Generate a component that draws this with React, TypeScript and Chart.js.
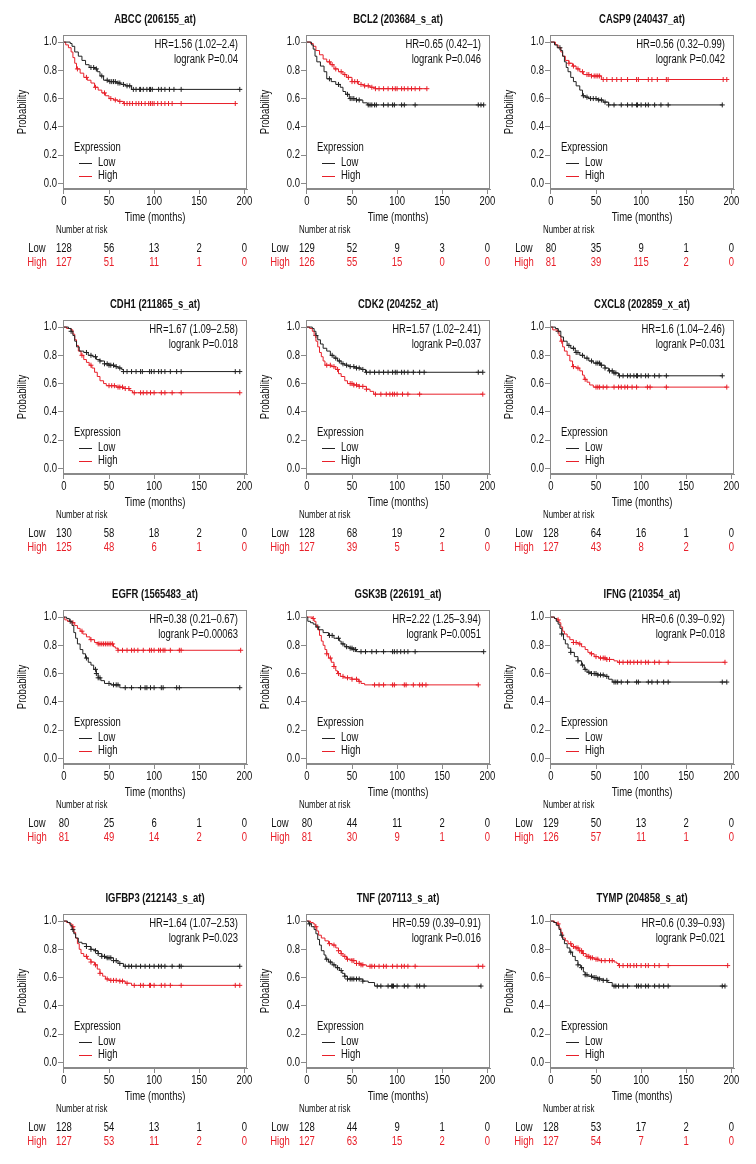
import React, { useEffect, useRef } from "react";
import { Chart, registerables } from "chart.js";
Chart.register(...registerables);

type Pt = [number, number];

const FONT = "'Liberation Sans', Arial, sans-serif";
const SX = 0.79;
const LOW_COLOR = "#222222";
const HIGH_COLOR = "#e8202a";
const FRAME = "#8a8a8a";
const TEXT = "#111111";

// ---------- data ----------
const riskTimes = [0, 50, 100, 150, 200];

// ABCC
const abccLow: Pt[] = [[0,1],[7,0.99],[9,0.97],[12,0.93],[16,0.9],[20,0.87],[24,0.84],[28,0.82],[34,0.81],[37,0.79],[40,0.76],[44,0.73],[50,0.72],[58,0.71],[63,0.7],[68,0.69],[75,0.665]];
const abccLowCens = [30,33,36,42,48,51,53,55,57,60,62,66,70,73,77,80,84,85,88,92,95,96,98,105,108,112,117,122,130,195];
const abccHigh: Pt[] = [[0,1],[2,0.98],[5,0.96],[8,0.93],[10,0.89],[12,0.85],[14,0.81],[18,0.78],[22,0.75],[26,0.73],[30,0.71],[34,0.68],[38,0.66],[42,0.64],[46,0.62],[50,0.6],[55,0.59],[60,0.58],[66,0.565]];
const abccHighCens = [15,25,35,45,52,57,62,67,70,73,76,80,83,86,90,94,96,98,100,104,108,112,116,120,130,190];
const abccRiskLow = [128,56,13,2,0];
const abccRiskHigh = [127,51,11,1,0];

// BCL2
const bcl2Low: Pt[] = [[0,1],[5,0.98],[7,0.95],[9,0.9],[11,0.86],[15,0.83],[19,0.79],[22,0.74],[27,0.72],[32,0.7],[37,0.68],[40,0.65],[43,0.63],[47,0.6],[55,0.59],[62,0.57],[67,0.555]];
const bcl2LowCens = [25,35,45,48,50,52,55,58,68,70,72,75,77,85,90,95,97,105,108,120,190,193,196];
const bcl2High: Pt[] = [[0,1],[4,0.99],[7,0.97],[10,0.94],[14,0.91],[18,0.88],[22,0.86],[26,0.84],[30,0.81],[35,0.79],[40,0.77],[44,0.75],[50,0.72],[57,0.7],[63,0.69],[70,0.68],[76,0.67]];
const bcl2HighCens = [25,28,32,38,42,46,50,53,56,60,64,68,72,76,80,85,90,95,98,100,105,108,112,116,120,125,133];
const bcl2RiskLow = [129,52,9,3,0];
const bcl2RiskHigh = [126,55,15,0,0];

// CASP9
const casp9Low: Pt[] = [[0,1],[4,0.98],[7,0.96],[11,0.94],[13,0.9],[15,0.86],[17,0.82],[19,0.79],[22,0.75],[25,0.72],[28,0.69],[32,0.66],[35,0.62],[38,0.61],[42,0.6],[52,0.59],[58,0.575],[64,0.555]];
const casp9LowCens = [10,36,40,44,47,50,53,56,60,64,70,78,85,90,95,96,100,105,108,115,122,130,190];
const casp9High: Pt[] = [[0,1],[5,0.98],[8,0.96],[11,0.93],[13,0.9],[16,0.87],[20,0.85],[24,0.83],[28,0.81],[32,0.79],[36,0.77],[45,0.76],[56,0.735]];
const casp9HighCens = [20,25,30,35,40,42,45,48,50,52,54,58,62,68,73,78,85,95,97,108,112,118,128,130,191,195];
const casp9RiskLow = [80,35,9,1,0];
const casp9RiskHigh = [81,39,115,2,0];

// CDH1
const cdh1Low: Pt[] = [[0,1],[5,0.99],[8,0.97],[10,0.94],[12,0.9],[14,0.86],[17,0.83],[22,0.82],[27,0.8],[32,0.79],[36,0.77],[40,0.76],[45,0.74],[50,0.73],[56,0.72],[60,0.71],[64,0.7],[66,0.685]];
const cdh1LowCens = [8,25,30,35,40,45,48,50,52,55,58,62,66,70,75,80,85,87,95,97,100,105,108,112,118,125,130,190,195];
const cdh1High: Pt[] = [[0,1],[3,0.99],[8,0.98],[10,0.95],[12,0.91],[14,0.87],[16,0.83],[19,0.8],[22,0.77],[25,0.75],[28,0.73],[31,0.71],[34,0.68],[37,0.65],[40,0.62],[44,0.6],[47,0.585],[58,0.575],[66,0.565],[73,0.55],[76,0.535]];
const cdh1HighCens = [20,30,50,53,56,60,62,65,68,72,78,85,88,92,96,100,108,112,120,130,195];
const cdh1RiskLow = [130,58,18,2,0];
const cdh1RiskHigh = [125,48,6,1,0];

// CDK2
const cdk2Low: Pt[] = [[0,1],[6,0.99],[8,0.97],[10,0.94],[12,0.91],[15,0.88],[18,0.85],[22,0.83],[26,0.8],[30,0.78],[34,0.76],[38,0.74],[42,0.73],[47,0.72],[53,0.71],[60,0.7],[65,0.68]];
const cdk2LowCens = [10,28,32,36,40,44,48,52,55,58,62,66,70,75,80,85,90,95,98,100,105,108,112,118,125,130,190,195];
const cdk2High: Pt[] = [[0,1],[3,0.99],[6,0.97],[8,0.94],[10,0.9],[12,0.86],[14,0.82],[16,0.79],[18,0.76],[20,0.73],[27,0.72],[32,0.7],[35,0.67],[38,0.65],[42,0.62],[45,0.6],[52,0.59],[58,0.58],[66,0.56],[70,0.545],[74,0.525]];
const cdk2HighCens = [22,26,30,34,48,50,52,55,58,62,66,76,82,88,92,95,97,100,106,112,125,195];
const cdk2RiskLow = [128,68,19,2,0];
const cdk2RiskHigh = [127,39,5,1,0];

// CXCL8
const cxcl8Low: Pt[] = [[0,1],[5,0.99],[8,0.97],[11,0.93],[14,0.9],[18,0.87],[22,0.85],[27,0.82],[32,0.8],[37,0.78],[42,0.76],[47,0.745],[55,0.73],[60,0.71],[64,0.69],[69,0.675],[75,0.655]];
const cxcl8LowCens = [8,20,25,28,30,35,40,45,50,52,54,56,60,65,68,70,72,76,80,85,88,92,95,96,100,105,108,115,120,128,190];
const cxcl8High: Pt[] = [[0,1],[2,0.98],[7,0.97],[9,0.94],[11,0.9],[13,0.86],[15,0.83],[18,0.8],[21,0.76],[24,0.72],[28,0.71],[32,0.69],[35,0.66],[37,0.63],[40,0.61],[43,0.59],[47,0.575]];
const cxcl8HighCens = [12,25,30,38,50,52,54,58,62,70,75,78,82,85,90,95,107,110,128,195];
const cxcl8RiskLow = [128,64,16,1,0];
const cxcl8RiskHigh = [127,43,8,2,0];

// EGFR
const egfrLow: Pt[] = [[0,1],[3,0.99],[6,0.97],[9,0.94],[11,0.89],[13,0.85],[15,0.81],[18,0.77],[21,0.74],[24,0.71],[27,0.68],[30,0.66],[33,0.63],[36,0.6],[38,0.57],[41,0.55],[45,0.53],[52,0.52],[62,0.5]];
const egfrLowCens = [7,25,35,36,38,40,50,55,58,60,68,75,85,90,92,96,100,108,110,125,128,195];
const egfrHigh: Pt[] = [[0,1],[1,0.98],[4,0.97],[9,0.96],[12,0.94],[15,0.92],[18,0.9],[21,0.88],[25,0.86],[29,0.84],[34,0.82],[38,0.81],[55,0.79],[57,0.78],[60,0.765]];
const egfrHighCens = [10,20,30,38,40,42,44,46,48,50,52,54,60,65,70,75,78,82,88,95,97,100,105,107,110,112,118,128,130,196];
const egfrRiskLow = [80,25,6,1,0];
const egfrRiskHigh = [81,49,14,2,0];

// GSK3B
const gsk3bLow: Pt[] = [[0,1],[1,0.97],[4,0.96],[7,0.95],[10,0.93],[13,0.91],[18,0.89],[24,0.87],[30,0.85],[36,0.83],[38,0.81],[42,0.79],[47,0.78],[52,0.77],[55,0.755]];
const gsk3bLowCens = [12,25,28,35,40,44,48,50,52,54,60,65,72,77,85,95,97,100,104,108,112,120,196];
const gsk3bHigh: Pt[] = [[0,1],[6,0.99],[8,0.97],[10,0.94],[12,0.91],[14,0.87],[16,0.83],[18,0.8],[20,0.77],[22,0.74],[24,0.71],[27,0.68],[30,0.65],[32,0.62],[34,0.6],[37,0.58],[41,0.57],[50,0.56],[57,0.545],[60,0.53],[64,0.52]];
const gsk3bHighCens = [7,22,26,30,35,40,45,50,55,58,75,80,85,95,97,108,110,118,125,128,132,190];
const gsk3bRiskLow = [80,44,11,2,0];
const gsk3bRiskHigh = [81,30,9,1,0];

// IFNG
const ifngLow: Pt[] = [[0,1],[4,0.99],[6,0.97],[8,0.95],[10,0.92],[12,0.88],[14,0.84],[16,0.81],[19,0.78],[22,0.75],[26,0.72],[30,0.69],[34,0.66],[37,0.63],[40,0.61],[45,0.6],[52,0.59],[60,0.58],[64,0.56],[68,0.54]];
const ifngLowCens = [12,22,30,35,38,42,45,48,50,52,55,58,62,70,72,74,78,85,95,97,108,112,118,125,130,190,195];
const ifngHigh: Pt[] = [[0,1],[4,0.99],[7,0.98],[9,0.96],[11,0.93],[13,0.9],[15,0.88],[18,0.86],[21,0.84],[25,0.82],[30,0.81],[34,0.79],[38,0.77],[41,0.75],[44,0.74],[48,0.72],[53,0.71],[62,0.7],[70,0.69],[74,0.68]];
const ifngHighCens = [8,25,28,32,45,50,55,58,60,62,65,76,80,85,88,92,96,100,105,108,115,120,130,193];
const ifngRiskLow = [129,50,13,2,0];
const ifngRiskHigh = [126,57,11,1,0];

// IGFBP3
const igfbp3Low: Pt[] = [[0,1],[4,0.99],[7,0.97],[9,0.94],[11,0.91],[13,0.88],[16,0.85],[20,0.84],[25,0.82],[30,0.8],[34,0.79],[38,0.77],[42,0.75],[46,0.74],[55,0.72],[60,0.7],[66,0.68]];
const igfbp3LowCens = [10,25,30,35,38,42,45,48,50,52,55,58,62,68,72,75,80,85,90,95,100,105,108,112,120,128,130,195];
const igfbp3High: Pt[] = [[0,1],[3,0.99],[6,0.98],[9,0.96],[11,0.92],[13,0.88],[15,0.84],[17,0.8],[19,0.77],[22,0.75],[26,0.73],[30,0.71],[34,0.69],[37,0.66],[40,0.63],[43,0.61],[46,0.59],[50,0.58],[62,0.575],[68,0.56],[75,0.545]];
const igfbp3HighCens = [10,25,30,35,40,48,52,55,58,62,65,70,78,85,88,95,96,100,108,112,118,130,190,195];
const igfbp3RiskLow = [128,54,13,1,0];
const igfbp3RiskHigh = [127,53,11,2,0];

// TNF
const tnfLow: Pt[] = [[0,1],[2,0.98],[5,0.96],[8,0.94],[10,0.91],[12,0.87],[14,0.83],[16,0.79],[19,0.76],[21,0.73],[24,0.71],[28,0.69],[32,0.67],[36,0.65],[39,0.63],[42,0.61],[45,0.59],[62,0.575],[68,0.565],[75,0.54]];
const tnfLowCens = [3,22,26,30,34,38,42,45,48,50,52,55,58,62,78,82,90,94,95,96,100,108,112,122,125,130,193];
const tnfHigh: Pt[] = [[0,1],[4,0.99],[7,0.98],[9,0.96],[11,0.93],[13,0.9],[16,0.88],[20,0.86],[24,0.84],[28,0.83],[32,0.81],[35,0.79],[38,0.77],[40,0.75],[44,0.73],[50,0.72],[55,0.7],[60,0.69],[66,0.68]];
const tnfHighCens = [10,25,30,35,38,42,45,50,52,55,58,60,62,70,72,75,80,85,88,95,100,105,108,112,120,190,195];
const tnfRiskLow = [128,44,9,1,0];
const tnfRiskHigh = [127,63,15,2,0];

// TYMP
const tympLow: Pt[] = [[0,1],[3,0.99],[6,0.97],[9,0.94],[11,0.9],[13,0.87],[15,0.84],[18,0.81],[21,0.78],[24,0.75],[27,0.72],[30,0.69],[33,0.67],[36,0.64],[38,0.62],[41,0.61],[46,0.6],[52,0.59],[58,0.58],[63,0.565],[68,0.54]];
const tympLowCens = [12,22,30,34,38,40,45,48,50,52,54,58,62,70,72,75,80,85,95,97,100,105,108,115,120,125,130,190,193];
const tympHigh: Pt[] = [[0,1],[4,0.99],[7,0.98],[9,0.95],[11,0.92],[13,0.88],[16,0.86],[19,0.84],[23,0.82],[27,0.81],[31,0.79],[35,0.77],[39,0.75],[43,0.74],[48,0.73],[53,0.72],[70,0.71],[73,0.7],[75,0.685]];
const tympHighCens = [8,22,25,28,30,32,34,36,40,42,44,46,50,52,56,60,65,68,76,80,85,88,92,95,100,105,108,115,120,130,196];
const tympRiskLow = [128,53,17,2,0];
const tympRiskHigh = [127,54,7,1,0];

type PanelData = {
  title: string; hr: string; p: string;
  low: Pt[]; lowCens: number[]; high: Pt[]; highCens: number[];
  riskLow: number[]; riskHigh: number[];
};

const panels: PanelData[] = [
  { title: "ABCC (206155_at)", hr: "HR=1.56 (1.02–2.4)", p: "logrank P=0.04", low: abccLow, lowCens: abccLowCens, high: abccHigh, highCens: abccHighCens, riskLow: abccRiskLow, riskHigh: abccRiskHigh },
  { title: "BCL2 (203684_s_at)", hr: "HR=0.65 (0.42–1)", p: "logrank P=0.046", low: bcl2Low, lowCens: bcl2LowCens, high: bcl2High, highCens: bcl2HighCens, riskLow: bcl2RiskLow, riskHigh: bcl2RiskHigh },
  { title: "CASP9 (240437_at)", hr: "HR=0.56 (0.32–0.99)", p: "logrank P=0.042", low: casp9Low, lowCens: casp9LowCens, high: casp9High, highCens: casp9HighCens, riskLow: casp9RiskLow, riskHigh: casp9RiskHigh },
  { title: "CDH1 (211865_s_at)", hr: "HR=1.67 (1.09–2.58)", p: "logrank P=0.018", low: cdh1Low, lowCens: cdh1LowCens, high: cdh1High, highCens: cdh1HighCens, riskLow: cdh1RiskLow, riskHigh: cdh1RiskHigh },
  { title: "CDK2 (204252_at)", hr: "HR=1.57 (1.02–2.41)", p: "logrank P=0.037", low: cdk2Low, lowCens: cdk2LowCens, high: cdk2High, highCens: cdk2HighCens, riskLow: cdk2RiskLow, riskHigh: cdk2RiskHigh },
  { title: "CXCL8 (202859_x_at)", hr: "HR=1.6 (1.04–2.46)", p: "logrank P=0.031", low: cxcl8Low, lowCens: cxcl8LowCens, high: cxcl8High, highCens: cxcl8HighCens, riskLow: cxcl8RiskLow, riskHigh: cxcl8RiskHigh },
  { title: "EGFR (1565483_at)", hr: "HR=0.38 (0.21–0.67)", p: "logrank P=0.00063", low: egfrLow, lowCens: egfrLowCens, high: egfrHigh, highCens: egfrHighCens, riskLow: egfrRiskLow, riskHigh: egfrRiskHigh },
  { title: "GSK3B (226191_at)", hr: "HR=2.22 (1.25–3.94)", p: "logrank P=0.0051", low: gsk3bLow, lowCens: gsk3bLowCens, high: gsk3bHigh, highCens: gsk3bHighCens, riskLow: gsk3bRiskLow, riskHigh: gsk3bRiskHigh },
  { title: "IFNG (210354_at)", hr: "HR=0.6 (0.39–0.92)", p: "logrank P=0.018", low: ifngLow, lowCens: ifngLowCens, high: ifngHigh, highCens: ifngHighCens, riskLow: ifngRiskLow, riskHigh: ifngRiskHigh },
  { title: "IGFBP3 (212143_s_at)", hr: "HR=1.64 (1.07–2.53)", p: "logrank P=0.023", low: igfbp3Low, lowCens: igfbp3LowCens, high: igfbp3High, highCens: igfbp3HighCens, riskLow: igfbp3RiskLow, riskHigh: igfbp3RiskHigh },
  { title: "TNF (207113_s_at)", hr: "HR=0.59 (0.39–0.91)", p: "logrank P=0.016", low: tnfLow, lowCens: tnfLowCens, high: tnfHigh, highCens: tnfHighCens, riskLow: tnfRiskLow, riskHigh: tnfRiskHigh },
  { title: "TYMP (204858_s_at)", hr: "HR=0.6 (0.39–0.93)", p: "logrank P=0.021", low: tympLow, lowCens: tympLowCens, high: tympHigh, highCens: tympHighCens, riskLow: tympRiskLow, riskHigh: tympRiskHigh },
];

// ---------- layout ----------
const CW = 252;
const CH = 285;
const BOX_TOP = 35;
const BOX_H = 154;
const COL_BOX: [number, number][] = [[63, 247], [306, 490], [550, 734]];
const ROW_TOP = [35, 320, 610, 914];
const Y_W = 30;
const X_H = 24;

const survivalAt = (steps: Pt[], t: number) => {
  let s = steps[0][1];
  for (const [ti, si] of steps) {
    if (ti <= t) s = si;
    else break;
  }
  return s;
};

const lineData = (steps: Pt[], cens: number[]) => {
  const pts = steps.map(([x, y]) => ({ x, y }));
  const end = Math.max(...cens);
  pts.push({ x: end, y: steps[steps.length - 1][1] });
  return pts;
};

const censData = (steps: Pt[], cens: number[]) => cens.map((t) => ({ x: t, y: survivalAt(steps, t) }));

// condensed text: draw with horizontal squeeze
function txt(ctx: CanvasRenderingContext2D, s: string, x: number, y: number, align: CanvasTextAlign, font: string, color: string) {
  ctx.save();
  ctx.translate(x, y);
  ctx.scale(SX, 1);
  ctx.font = font;
  ctx.fillStyle = color;
  ctx.textAlign = align;
  ctx.textBaseline = "middle";
  ctx.fillText(s, 0, 0);
  ctx.restore();
}

function makeDecor(p: PanelData) {
  return {
    id: "decor",
    afterDraw(chart: any) {
      const { ctx, chartArea: a } = chart;
      const xs = chart.scales.x;
      const ys = chart.scales.y;
      const F = `12px ${FONT}`;
      ctx.save();
      // frame
      ctx.strokeStyle = FRAME;
      ctx.lineWidth = 1;
      ctx.strokeRect(Math.round(a.left) + 0.5, Math.round(a.top) + 0.5, Math.round(a.right - a.left) - 1, Math.round(a.bottom - a.top) - 1);
      const cx = (a.left + a.right) / 2;
      // tick labels
      ys.ticks.forEach((t: any) => txt(ctx, Number(t.value).toFixed(1), a.left - 6, ys.getPixelForValue(t.value), "right", F, TEXT));
      xs.ticks.forEach((t: any) => txt(ctx, String(t.value), xs.getPixelForValue(t.value), a.bottom + 13, "center", F, TEXT));
      // title
      txt(ctx, p.title, cx, a.top - 15, "center", `bold 12px ${FONT}`, TEXT);
      // HR
      txt(ctx, p.hr, a.right - 9, a.top + 10, "right", F, TEXT);
      txt(ctx, p.p, a.right - 9, a.top + 25, "right", F, TEXT);
      // legend
      txt(ctx, "Expression", a.left + 11, a.top + 113, "left", F, TEXT);
      ctx.lineWidth = 1;
      ctx.strokeStyle = LOW_COLOR;
      ctx.beginPath();
      ctx.moveTo(a.left + 16, Math.round(a.top + 128) + 0.5);
      ctx.lineTo(a.left + 29, Math.round(a.top + 128) + 0.5);
      ctx.stroke();
      txt(ctx, "Low", a.left + 35, a.top + 128, "left", F, TEXT);
      ctx.strokeStyle = HIGH_COLOR;
      ctx.beginPath();
      ctx.moveTo(a.left + 16, Math.round(a.top + 141) + 0.5);
      ctx.lineTo(a.left + 29, Math.round(a.top + 141) + 0.5);
      ctx.stroke();
      txt(ctx, "High", a.left + 35, a.top + 141, "left", F, TEXT);
      // x title
      txt(ctx, "Time (months)", cx, a.bottom + 29, "center", F, TEXT);
      // y title
      ctx.save();
      ctx.translate(a.left - 40, (a.top + a.bottom) / 2);
      ctx.rotate(-Math.PI / 2);
      txt(ctx, "Probability", 0, 0, "center", F, TEXT);
      ctx.restore();
      // number at risk
      txt(ctx, "Number at risk", a.left - 7, a.bottom + 41, "left", `10px ${FONT}`, TEXT);
      txt(ctx, "Low", a.left - 26, a.bottom + 60, "center", F, TEXT);
      riskTimes.forEach((t, i) => txt(ctx, String(p.riskLow[i]), xs.getPixelForValue(t), a.bottom + 60, "center", F, TEXT));
      txt(ctx, "High", a.left - 26, a.bottom + 74, "center", F, HIGH_COLOR);
      riskTimes.forEach((t, i) => txt(ctx, String(p.riskHigh[i]), xs.getPixelForValue(t), a.bottom + 74, "center", F, HIGH_COLOR));
      ctx.restore();
    },
  };
}

function Panel({ p, col, row }: { p: PanelData; col: number; row: number }) {
  const ref = useRef<HTMLCanvasElement>(null);
  useEffect(() => {
    const [bl, br] = COL_BOX[col];
    const boxL = bl - col * CW;
    const boxR = br - col * CW;
    // tiny transparent labels so they do not push the plot area around
    const font = { family: FONT, size: 1 };
    const hidden = "rgba(0,0,0,0)";
    const chart = new Chart(ref.current as HTMLCanvasElement, {
      type: "line",
      data: {
        datasets: [
          { data: lineData(p.low, p.lowCens), borderColor: LOW_COLOR, borderWidth: 1, pointRadius: 0, stepped: true, fill: false },
          { data: lineData(p.high, p.highCens), borderColor: HIGH_COLOR, borderWidth: 1, pointRadius: 0, stepped: true, fill: false },
          { data: censData(p.low, p.lowCens), showLine: false, pointStyle: "cross", pointRadius: 2.5, pointBorderWidth: 1, borderColor: LOW_COLOR, backgroundColor: LOW_COLOR },
          { data: censData(p.high, p.highCens), showLine: false, pointStyle: "cross", pointRadius: 2.5, pointBorderWidth: 1, borderColor: HIGH_COLOR, backgroundColor: HIGH_COLOR },
        ] as any,
      },
      options: {
        animation: false,
        responsive: false,
        events: [],
        layout: { padding: { left: boxL - Y_W, right: CW - boxR, top: BOX_TOP, bottom: CH - BOX_TOP - BOX_H - X_H } },
        plugins: { legend: { display: false }, tooltip: { enabled: false } },
        scales: {
          x: {
            type: "linear",
            min: -1,
            max: 203,
            afterFit: (s: any) => { s.height = X_H; s.paddingLeft = 0; s.paddingRight = 0; },
            ticks: { stepSize: 50, includeBounds: false, padding: 0, maxRotation: 0, autoSkip: false, font, color: hidden },
            grid: { drawOnChartArea: false, drawTicks: true, tickLength: 5, color: FRAME },
            border: { display: true, color: FRAME },
          },
          y: {
            type: "linear",
            min: -0.04,
            max: 1.05,
            afterFit: (s: any) => { s.width = Y_W; s.paddingTop = 0; s.paddingBottom = 0; },
            ticks: { stepSize: 0.2, includeBounds: false, padding: 0, autoSkip: false, font, color: hidden, callback: (v: any) => Number(v).toFixed(1) },
            grid: { drawOnChartArea: false, drawTicks: true, tickLength: 5, color: FRAME },
            border: { display: true, color: FRAME },
          },
        },
      } as any,
      plugins: [makeDecor(p)],
    });
    return () => chart.destroy();
  }, [p, col, row]);
  return (
    <canvas
      ref={ref}
      width={CW}
      height={CH}
      style={{ position: "absolute", left: col * CW, top: ROW_TOP[row] - BOX_TOP, width: CW, height: CH }}
    />
  );
}

export default function App() {
  return (
    <div style={{ position: "absolute", left: 0, top: 0, width: 756, height: 1164, background: "#ffffff", overflow: "hidden" }}>
      {panels.map((p, i) => (
        <Panel key={p.title} p={p} col={i % 3} row={Math.floor(i / 3)} />
      ))}
    </div>
  );
}
